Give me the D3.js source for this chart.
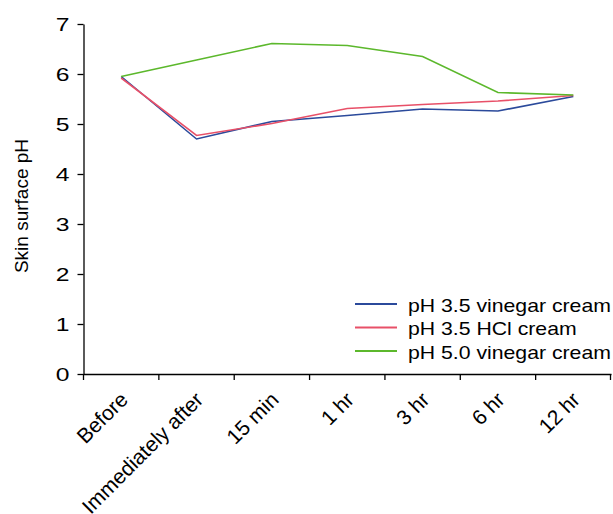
<!DOCTYPE html>
<html>
<head>
<meta charset="utf-8">
<script src="https://cdn.jsdelivr.net/npm/d3@7"></script>
<style>
  body { margin: 0; background: #fff; }
  svg { font-family: Arial, "Liberation Sans", sans-serif; }
</style>
</head>
<body>
<div id="chart"></div>
<script>
const categories = ['Before', 'Immediately after', '15 min', '1 hr', '3 hr', '6 hr', '12 hr'];
const vinegar35 = [5.95, 4.70, 5.05, 5.17, 5.30, 5.26, 5.55];
const hcl35 = [5.92, 4.77, 5.01, 5.31, 5.39, 5.46, 5.57];
const vinegar50 = [5.95, 6.28, 6.61, 6.57, 6.35, 5.63, 5.58];
const seriesNames = ['pH 3.5 vinegar cream', 'pH 3.5 HCl cream', 'pH 5.0 vinegar cream'];
const seriesColors = ['#2b4a9b', '#e85068', '#5cb82c'];
const yTicks = [0, 1, 2, 3, 4, 5, 6, 7];

const width = 613, height = 514;
const margin = { top: 24, right: 2, bottom: 140, left: 83.5 };

const svg = d3.select('#chart')
  .append('svg')
  .attr('width', width)
  .attr('height', height);

const x = d3.scaleBand()
  .domain(categories)
  .range([margin.left, width - margin.right]);

const y = d3.scaleLinear()
  .domain([0, 7])
  .range([height - margin.bottom, margin.top]);

// X axis
const xAxis = svg.append('g')
  .attr('transform', `translate(0,${y(0)})`)
  .call(d3.axisBottom(x).tickSize(0).tickSizeOuter(0));
xAxis.select('.domain').attr('stroke', '#000').attr('stroke-width', 1.3);

// tick marks at band edges
svg.append('g')
  .selectAll('line')
  .data(categories.concat(['end']))
  .enter()
  .append('line')
  .attr('x1', (d, i) => i < categories.length ? x(d) : x.range()[1] - 0.5)
  .attr('x2', (d, i) => i < categories.length ? x(d) : x.range()[1] - 0.5)
  .attr('y1', y(0))
  .attr('y2', y(0) + 6)
  .attr('stroke', '#000')
  .attr('stroke-width', 1.3);

xAxis.selectAll('text')
  .attr('fill', '#000')
  .style('font-size', '21px')
  .style('text-anchor', 'end')
  .attr('x', 0)
  .attr('y', 0)
  .attr('dy', 0)
  .attr('transform', 'translate(8,27) rotate(-45)');

// Y axis
const yAxis = svg.append('g')
  .attr('transform', `translate(${margin.left},0)`)
  .call(d3.axisLeft(y).tickValues(yTicks).tickFormat(d3.format('d')).tickSize(6).tickSizeOuter(0));
yAxis.select('.domain').attr('stroke', '#000').attr('stroke-width', 1.3);
yAxis.selectAll('line').attr('stroke', '#000').attr('stroke-width', 1.3);
yAxis.selectAll('text')
  .attr('fill', '#000')
  .style('font-size', '19px')
  .attr('x', 0)
  .attr('transform', 'translate(-14,0) scale(1.3,1)');

// y title
svg.append('text')
  .attr('transform', 'translate(28,206) rotate(-90)')
  .attr('text-anchor', 'middle')
  .style('font-size', '19px')
  .text('Skin surface pH');

// lines
const seriesData = [vinegar35, hcl35, vinegar50];
const line = d3.line()
  .x((d, i) => x(categories[i]) + x.bandwidth() / 2)
  .y(d => y(d));

svg.append('g')
  .selectAll('path')
  .data(seriesData)
  .enter()
  .append('path')
  .attr('d', d => line(d))
  .attr('fill', 'none')
  .attr('stroke', (d, i) => seriesColors[i])
  .attr('stroke-width', 1.6);

// legend
const legend = svg.append('g')
  .attr('transform', 'translate(355,304)');
const rows = legend.selectAll('g')
  .data(seriesNames)
  .enter()
  .append('g')
  .attr('transform', (d, i) => `translate(0,${i * 23.5})`);
rows.append('line')
  .attr('x1', 0).attr('x2', 42)
  .attr('y1', 0).attr('y2', 0)
  .attr('stroke', (d, i) => seriesColors[i])
  .attr('stroke-width', 1.8);
rows.append('text')
  .attr('transform', 'translate(53,7.5) scale(1.18,1)')
  .style('font-size', '18px')
  .text(d => d);
</script>
</body>
</html>
